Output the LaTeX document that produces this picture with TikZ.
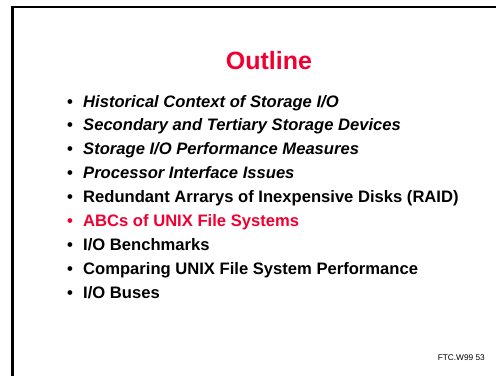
\documentclass[tikz,border=0pt]{standalone}
\usepackage{fontspec}
\setmainfont{Liberation Sans}
\definecolor{slidered}{RGB}{240,0,50}
\tikzset{
  frameline/.style={line width=2.5pt, line cap=butt},
  titletext/.style={anchor=base, inner sep=0pt, font=\fontsize{25}{30}\selectfont\bfseries, text=slidered},
  itemtext/.style={anchor=base west, inner sep=0pt, font=\fontsize{16.6}{20}\selectfont\bfseries},
  itemital/.style={itemtext, font=\fontsize{16.6}{20}\selectfont\bfseries\itshape},
  bullettext/.style={anchor=base, inner sep=0pt, font=\fontsize{16.6}{20}\selectfont\bfseries},
  foottext/.style={anchor=base east, inner sep=0pt, font=\fontsize{8.3}{10}\selectfont}
}
\newcommand{\slideitem}[4]{%
  \node[bullettext, text=#4] (b#1) at (70,-107-23.875*#1) {•};
  \node[#3, text=#4] (t#1) at (83,-107-23.875*#1) {#2};
}
\begin{document}
\begin{tikzpicture}[x=1pt,y=1pt]
\useasboundingbox (0,0) rectangle (496,-376);
\fill[white] (0,0) rectangle (496,-376);
% slide frame: only the top and left edges fall inside the page
\draw[frameline] (496,-7) -- (12.5,-7) -- (12.5,-376);
% title
\node[titletext] (title) at (269,-69) {Outline};
% bullet list
\slideitem{0}{Historical Context of Storage I/O}{itemital}{black}
\slideitem{1}{Secondary and Tertiary Storage Devices}{itemital}{black}
\slideitem{2}{Storage I/O Performance Measures}{itemital}{black}
\slideitem{3}{Processor Interface Issues}{itemital}{black}
\slideitem{4}{Redundant Arrarys of Inexpensive Disks (RAID)}{itemtext}{black}
\slideitem{5}{ABCs of UNIX File Systems}{itemtext}{slidered}
\slideitem{6}{I/O Benchmarks}{itemtext}{black}
\slideitem{7}{Comparing UNIX File System Performance}{itemtext}{black}
\slideitem{8}{I/O Buses}{itemtext}{black}
% footer
\node[foottext] (foot) at (485,-360) {FTC.W99 53};
\end{tikzpicture}
\end{document}
